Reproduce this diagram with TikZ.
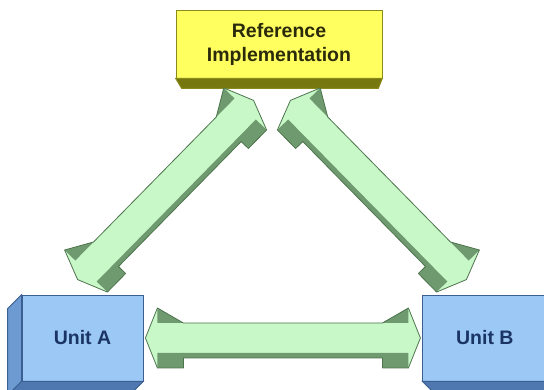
\documentclass[tikz,border=0pt]{standalone}
\usepackage{fontspec}
\setmainfont{Liberation Sans}
\usetikzlibrary{positioning,calc}

\definecolor{refyellow}{HTML}{FFFF5F}
\definecolor{refolive}{HTML}{8A8A1A}
\definecolor{refshade}{HTML}{77770F}
\definecolor{reftext}{HTML}{2B2B0B}
\definecolor{unitblue}{HTML}{9CC8F5}
\definecolor{unitside}{HTML}{6E9AD2}
\definecolor{unitshade}{HTML}{4F78B0}
\definecolor{unitline}{HTML}{3A5F90}
\definecolor{unittext}{HTML}{1A3565}
\definecolor{arrowlight}{HTML}{C8F7C8}
\definecolor{arrowdark}{HTML}{6F9A6F}
\definecolor{arrowline}{HTML}{4E744E}

\tikzset{
  boxtext/.style={font=\fontsize{19.5}{24}\selectfont\bfseries, align=center, inner sep=0pt, line width=0.8pt},
  refbox/.style={boxtext, draw=refolive, fill=refyellow, minimum width=206pt, minimum height=68pt, text=reftext},
  unitbox/.style={boxtext, draw=unitline, fill=unitblue, minimum height=86pt, text=unittext},
  arrowrim/.style={draw=arrowline, line width=0.8pt, line join=round}
}

% fat 3d double arrow from one coordinate to another
\newcommand{\fatarrow}[2]{%
  \pgfpointdiff{\pgfpointanchor{#1}{center}}{\pgfpointanchor{#2}{center}}%
  \pgfgetlastxy{\ax}{\ay}%
  \pgfmathsetmacro{\alen}{veclen(\ax,\ay)}%
  \pgfmathsetmacro{\aang}{atan2(\ay,\ax)}%
  \begin{scope}[shift={(#1)}, rotate=\aang]
    \fill[arrowlight] (0,0) -- (12,30) -- (38,15) -- ({\alen-38},15) -- ({\alen-12},30) -- (\alen,0)
      -- ({\alen-12},-30) -- ({\alen-38},-30) -- ({\alen-38},-20) -- (38,-20) -- (38,-30) -- (12,-30) -- cycle;
    \fill[arrowdark] (12,30) -- (38,15) -- (12,15) -- cycle
      ({\alen-12},30) -- ({\alen-38},15) -- ({\alen-12},15) -- cycle
      (12,-15) rectangle (38,-30)
      ({\alen-38},-15) rectangle ({\alen-12},-30)
      (38,-15) rectangle ({\alen-38},-20);
    \draw[arrowrim] (0,0) -- (12,30) -- (38,15) -- ({\alen-38},15) -- ({\alen-12},30) -- (\alen,0)
      -- ({\alen-12},-30) -- ({\alen-38},-30) -- ({\alen-38},-20) -- (38,-20) -- (38,-30) -- (12,-30) -- cycle;
  \end{scope}}

\begin{document}
\begin{tikzpicture}[x=1pt, y=1pt]
  \useasboundingbox (0,0) rectangle (544,390);
  \clip (0,0) rectangle (544,390);
  \node[refbox] (ref) at (279,346) {Reference\\Implementation};
  \node[unitbox, minimum width=121pt] (unitA) at (82.5,52) {Unit A};
  \node[unitbox, minimum width=124pt, right = 279pt of unitA] (unitB) {Unit B};
  % depth faces
  \filldraw[fill=refshade, draw=refolive, line width=0.8pt] (ref.south west) -- (ref.south east) -- ++(-4,-10)
    -- ($(ref.south west)+(6,-10)$) -- cycle;
  \filldraw[fill=unitside, draw=unitline, line width=0.8pt] (unitA.north west) -- ++(-14,-14)
    -- ($(unitA.south west)+(-14,-14)$) -- (unitA.south west) -- cycle;
  \filldraw[fill=unitshade, draw=unitline, line width=0.8pt] (unitA.south west) -- (unitA.south east) -- ++(-14,-14)
    -- ($(unitA.south west)+(-14,-14)$) -- cycle;
  \filldraw[fill=unitshade, draw=unitline, line width=0.8pt] (unitB.south west) -- (unitB.south east) -- ++(14,-14)
    -- ($(unitB.south west)+(14,-14)$) -- cycle;
  % arrow ends
  \coordinate (aTop) at ($(unitA.north west)+(56,15)$);
  \coordinate (refL) at ($(ref.south west)+(78,-22)$);
  \coordinate (refR) at ($(ref.south east)+(-92,-22)$);
  \coordinate (bTop) at ($(unitB.north west)+(44,15)$);
  \coordinate (aRight) at ($(unitA.east)+(2,0)$);
  \coordinate (bLeft) at ($(unitB.west)+(-2,0)$);
  \fatarrow{aTop}{refL}
  \fatarrow{refR}{bTop}
  \fatarrow{aRight}{bLeft}
\end{tikzpicture}
\end{document}
